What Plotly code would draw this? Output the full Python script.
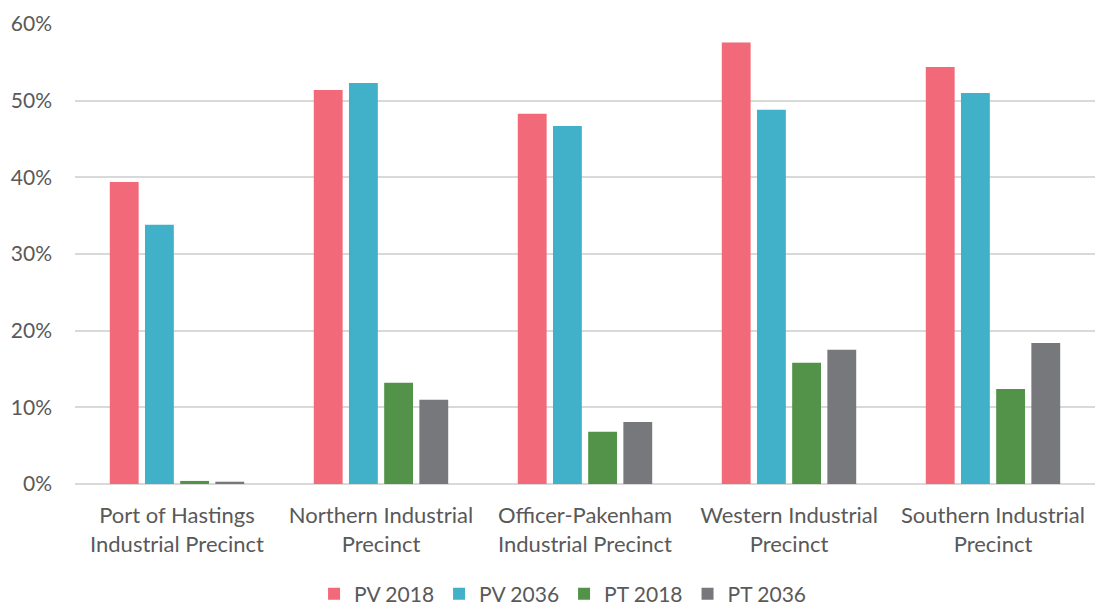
import plotly.graph_objects as go

categories = ["Port of Hastings<br>Industrial Precinct", "Northern Industrial<br>Precinct",
              "Officer-Pakenham<br>Industrial Precinct", "Western Industrial<br>Precinct",
              "Southern Industrial<br>Precinct"]
series_names = ["PV 2018", "PV 2036", "PT 2018", "PT 2036"]
pv_2018 = [0.394, 0.514, 0.483, 0.576, 0.544]
pv_2036 = [0.338, 0.523, 0.467, 0.488, 0.510]
pt_2018 = [0.004, 0.132, 0.068, 0.158, 0.124]
pt_2036 = [0.003, 0.110, 0.081, 0.175, 0.184]
colors = ["#F26A7A", "#41B0C9", "#529349", "#76787B"]

fig = go.Figure()
for name, vals, c in zip(series_names, [pv_2018, pv_2036, pt_2018, pt_2036], colors):
    fig.add_trace(go.Bar(x=categories, y=vals, name=name, marker=dict(color=c, line=dict(width=0))))

font = "Lato, Calibri, 'Open Sans', sans-serif"
txt = "#595959"
fig.update_layout(
    barmode="group", bargap=0.31, bargroupgap=0.18,
    width=1096, height=605,
    margin=dict(l=75, r=1, t=24, b=121),
    paper_bgcolor="white", plot_bgcolor="white",
    font=dict(family=font, size=20, color=txt),
    legend=dict(orientation="h", x=0.478, xanchor="center", xref="paper",
                y=0.018, yanchor="middle", yref="container",
                font=dict(size=21, color=txt), itemwidth=30, traceorder="normal"),
    xaxis=dict(showgrid=False, showline=False, ticks="", automargin=False,
               ticklabelstandoff=16, tickfont=dict(size=22)),
    yaxis=dict(range=[0, 0.6], dtick=0.1, tickformat=".0%", showgrid=True, automargin=False,
               gridcolor="#D9D9D9", gridwidth=1.5, zeroline=True, zerolinecolor="#D9D9D9",
               zerolinewidth=1.5, showline=False, ticks="", ticklabelstandoff=22,
               tickfont=dict(size=21)),
)
fig.write_html("out.html")
